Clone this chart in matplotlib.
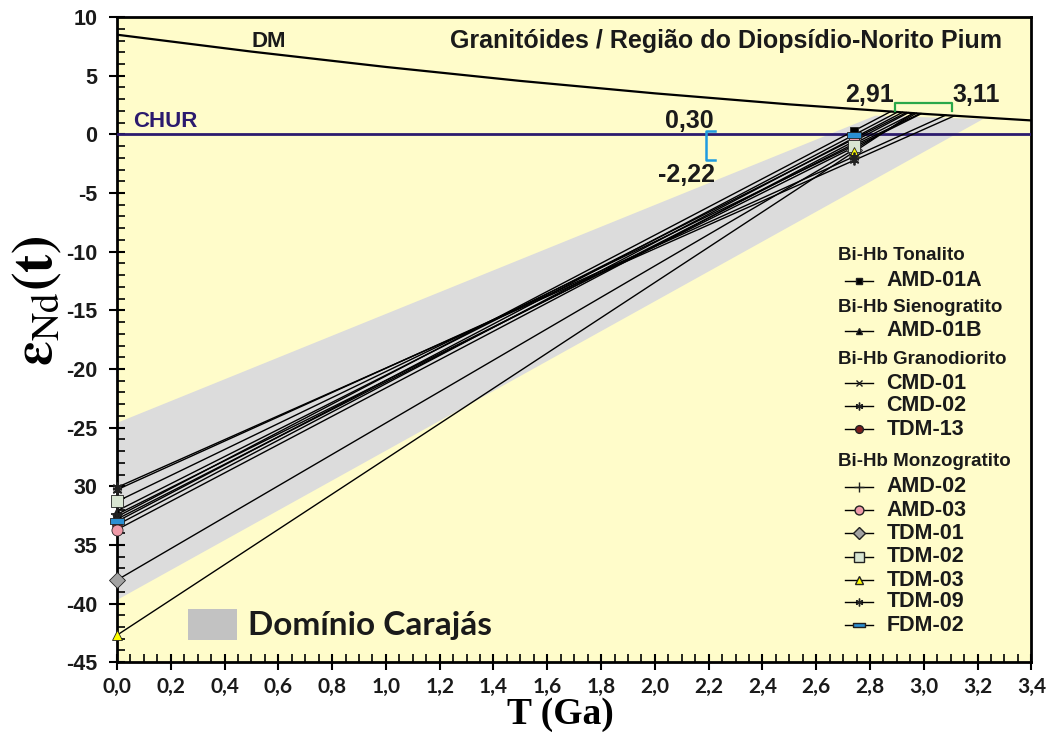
import numpy as np
import matplotlib
matplotlib.use("Agg")
import matplotlib.pyplot as plt
from matplotlib.patches import Polygon, Rectangle
from matplotlib.ticker import MultipleLocator

plt.rcParams['mathtext.fontset'] = 'stix'

# curva DM
dm_T = [0.0, 0.5, 1.0, 1.5, 2.0, 2.5, 3.0, 3.4]
dm_e = [8.5, 7.06, 5.75, 4.56, 3.5, 2.56, 1.75, 1.19]

# campo Dominio Carajas
caj_T = [0.0, 2.82, 3.22, 0.0]
caj_e = [-24.6, 1.6, 1.3, -39.7]

# amostras
t_age = 2.74
groups = ["Bi-Hb Tonalito", "Bi-Hb Sienogratito", "Bi-Hb Granodiorito", "Bi-Hb Monzogratito"]
names = ["AMD-01A", "AMD-01B", "CMD-01", "CMD-02", "TDM-13",
         "AMD-02", "AMD-03", "TDM-01", "TDM-02", "TDM-03", "TDM-09", "FDM-02"]
eps0 = [-32.6, -32.1, -32.8, -30.1, -33.3, -32.4, -33.7, -38.0, -31.3, -42.7, -30.3, -33.0]
epst = [0.30, -0.4, -0.8, -2.22, -0.3, -1.1, -0.6, -1.3, -0.95, -1.5, -1.9, -0.05]

bar = [(-1.6, -0.6), (1.6, -0.6), (1.6, 0.6), (-1.6, 0.6), (-1.6, -0.6)]
markers = ['s', '^', 'x', (6, 2, 0), 'o', '+', 'o', 'D', 's', '^', (6, 2, 0), bar]
mcolors = ['black', 'black', 'black', 'black', '#7a1c1c', 'black', '#ef9aa8',
           '#a3a3a3', '#d9e6d2', '#ffff00', 'black', '#2b8fd2']
msizes = [6, 6, 6, 7, 7, 9, 8, 8, 9, 7, 7, 10]

fig = plt.figure(figsize=(10.51, 7.44), dpi=100)
ax = fig.add_axes([0.1113, 0.110, 0.8700, 0.867])
ax.set_facecolor('#fffcca')

ax.add_patch(Polygon(list(zip(caj_T, caj_e)), closed=True, facecolor='#dcdcdc',
                     edgecolor='none', zorder=1))

Tf = np.linspace(0, 3.4, 3401)
dmf = np.interp(Tf, dm_T, dm_e)
ax.plot(dm_T, dm_e, color='black', lw=1.6, zorder=3)
ax.axhline(0, color='#2b1a6e', lw=2.0, zorder=3)

for i in range(len(names)):
    slope = (epst[i] - eps0[i]) / t_age
    line = eps0[i] + slope * Tf
    k = np.argmax(line >= dmf)
    ax.plot([0, Tf[k]], [eps0[i], line[k]], color='black', lw=1.0, zorder=4)

for i in range(len(names)):
    for x, y in [(0, eps0[i]), (t_age, epst[i])]:
        mew = 1.3 if markers[i] in ['x', '+'] or isinstance(markers[i], tuple) else 0.6
        ax.plot(x, y, marker=markers[i], ms=msizes[i], mfc=mcolors[i], mec='#222222',
                mew=mew, ls='none', zorder=6, clip_on=False)

# colchetes
ax.plot([2.225, 2.19, 2.19, 2.225], [0.3, 0.3, -2.22, -2.22], color='#1f9be0', lw=1.8, zorder=5)
ax.plot([2.894, 2.894, 3.106, 3.106], [2.0, 2.67, 2.67, 2.0], color='#2aa84a', lw=1.6, zorder=5)

bold = dict(fontweight='bold', family='Liberation Sans', color='#1a1a1a')
ax.text(2.128, 1.1, "0,30", ha='center', va='center', fontsize=18, **bold)
ax.text(2.117, -3.5, "-2,22", ha='center', va='center', fontsize=18, **bold)
ax.text(2.80, 3.4, "2,91", ha='center', va='center', fontsize=18, **bold)
ax.text(3.195, 3.4, "3,11", ha='center', va='center', fontsize=18, **bold)
ax.text(0.564, 7.95, "DM", ha='center', va='center', fontsize=16, **bold)
ax.text(0.06, 1.1, "CHUR", ha='left', va='center', fontsize=16,
        fontweight='bold', family='Liberation Sans', color='#2b1a6e')
ax.text(3.29, 8.0, "Granitóides / Região do Diopsídio-Norito Pium", ha='right',
        va='center', fontsize=18, **bold)

# legenda manual
px = lambda p: 10 - (p - 17) / 645 * 55
hx = (838 - 117) / 268.8
lx0, lx1 = (845 - 117) / 268.8, (873 - 117) / 268.8
tx = (886 - 117) / 268.8
head_y = [255, 307.7, 359, 461.7]
item_y = [280.7, 330.7, 383.3, 405.7, 429.3, 486.7, 510, 533.3, 556.7, 580, 601.7, 625]
for g, yy in zip(groups, head_y):
    ax.text(hx, px(yy), g, ha='left', va='center', fontsize=13.5, **bold)
for i, yy in enumerate(item_y):
    ax.plot([lx0, lx1], [px(yy), px(yy)], color='black', lw=1.0, zorder=6)
    ax.plot((lx0 + lx1) / 2, px(yy), marker=markers[i], ms=msizes[i] * 0.8, mfc=mcolors[i],
            mec='#222222', mew=1.0, ls='none', zorder=7)
    ax.text(tx, px(yy), names[i], ha='left', va='center', fontsize=15.5, **bold)

ax.add_patch(Rectangle((0.264, -43.1), 0.182, 2.6, facecolor='#c2c2c2', edgecolor='none', zorder=5))
ax.text(0.487, -41.9, "Domínio Carajás", ha='left', va='center', fontsize=24,
        fontweight='bold', family='Lato', color='#1a1a1a')

ax.set_xlim(0, 3.4)
ax.set_ylim(-45, 10)
ax.xaxis.set_minor_locator(MultipleLocator(0.05))
ax.yaxis.set_minor_locator(MultipleLocator(1))
xt = np.arange(0, 3.41, 0.2)
ax.set_xticks(xt)
ax.set_xticklabels([("%.1f" % v).replace('.', ',') for v in xt],
                   fontsize=15, fontweight='bold', family='Lato', color='#1a1a1a')
yt = list(range(-45, 11, 5))
ylab = [str(v) for v in yt]
ylab[yt.index(-30)] = "30"
ylab[yt.index(-35)] = "35"
ax.set_yticks(yt)
ax.set_yticklabels(ylab, fontsize=15.5, fontweight='bold', family='Liberation Sans', color='#1a1a1a')
ax.tick_params(axis='y', which='major', pad=8)
ax.tick_params(axis='x', which='major', pad=5)
ax.tick_params(which='major', direction='inout', length=12, width=1.5)
ax.tick_params(which='minor', direction='in', length=6, width=1.2)
ax.tick_params(top=False, right=False, which='both')
for s in ax.spines.values():
    s.set_linewidth(2)

ax.set_xlabel("T (Ga)", fontsize=27, fontweight='bold', family='Liberation Serif')
ax.xaxis.set_label_coords(0.485, -0.054)
ax.set_ylabel(r'$\mathbf{\varepsilon}_{\mathrm{Nd}}\mathbf{(t)}$', fontsize=40)
ax.yaxis.set_label_coords(-0.058, 0.56)

fig.savefig("out.png", dpi=100)
